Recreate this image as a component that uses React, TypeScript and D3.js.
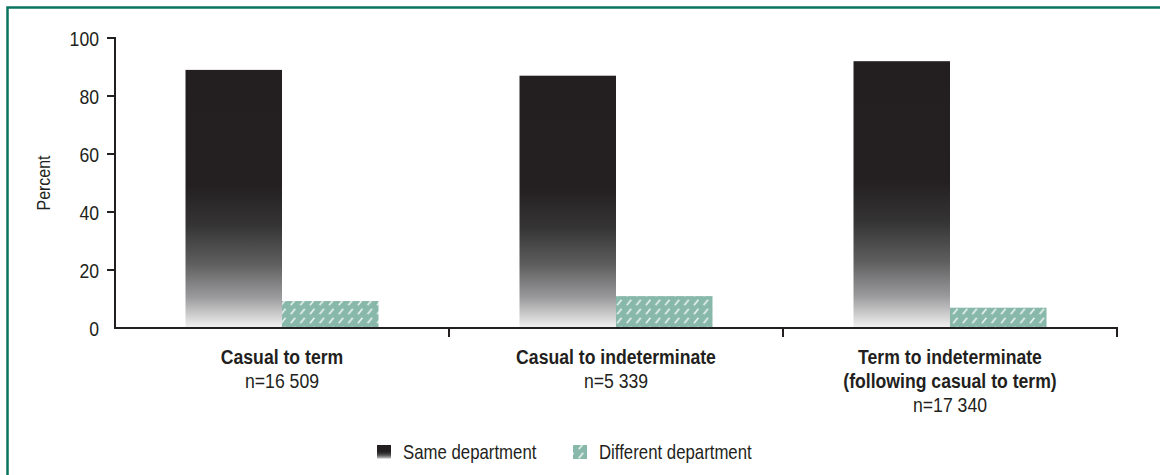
import React from "react";
import * as d3 from "d3";

// Share of employees staying in the same department after a status change
const categories = ["Casual to term", "Casual to indeterminate", "Term to indeterminate"];
const categoryLines = [
  ["Casual to term", "n=16 509"],
  ["Casual to indeterminate", "n=5 339"],
  ["Term to indeterminate", "(following casual to term)", "n=17 340"],
];
const seriesNames = ["Same department", "Different department"];
const sameDept = [89, 87, 92];
const differentDept = [9.3, 11, 7];
const yTicks = [0, 20, 40, 60, 80, 100];

const W = 1160;
const H = 475;
const FONT = "'Liberation Sans', Arial, sans-serif";
const NARROW = 0.84;
const INK = "#231f20";
const TEAL = "#88b8aa";

type NTProps = {
  x: number;
  y: number;
  anchor?: "start" | "middle" | "end";
  size: number;
  bold?: boolean;
  dy?: string;
  rotate?: number;
  children: React.ReactNode;
};

// Condensed text: a regular sans squeezed horizontally
function NText({ x, y, anchor = "start", size, bold, dy, rotate = 0, children }: NTProps) {
  return (
    <g transform={`translate(${x},${y}) rotate(${rotate}) scale(${NARROW},1)`}>
      <text textAnchor={anchor} fontSize={size} fontWeight={bold ? "bold" : "normal"} dy={dy} fill={INK}>
        {children}
      </text>
    </g>
  );
}

export default function App() {
  const left = 115;
  const right = 1117;
  const top = 38;
  const bottom = 328;

  const x = d3.scaleBand<string>().domain(categories).range([left, right]).padding(0);
  const barW = 96.5;
  const inner = d3
    .scaleBand<string>()
    .domain(seriesNames)
    .range([(x.bandwidth() - barW * 2) / 2, (x.bandwidth() + barW * 2) / 2])
    .padding(0);
  const y = d3.scaleLinear().domain([0, 100]).range([bottom, top]);

  const values = [sameDept, differentDept];
  const fills = ["url(#sameGrad)", "url(#hatch)"];
  const boundaries = [...categories.map((c) => x(c)!), right];

  return (
    <svg width={W} height={H} style={{ position: "fixed", left: 0, top: 0, background: "#fff" }} fontFamily={FONT}>
      <defs>
        <linearGradient id="sameGrad" x1="0" y1="0" x2="0" y2="1">
          <stop offset="0" stopColor="#231f20" />
          <stop offset="0.45" stopColor="#242021" />
          <stop offset="0.6" stopColor="#353435" />
          <stop offset="0.75" stopColor="#5e5e5f" />
          <stop offset="0.88" stopColor="#9a9a9c" />
          <stop offset="1" stopColor="#f3f3f3" />
        </linearGradient>
        <pattern id="hatch" patternUnits="userSpaceOnUse" width="9.6" height="9" x="0" y="1">
          <rect width="9.6" height="9" fill={TEAL} />
          <line x1="2.8" y1="7.2" x2="7.2" y2="1.8" stroke="#e2efeb" strokeWidth="1.8" />
        </pattern>
      </defs>

      {/* frame */}
      <path d={`M7.5,${H} L7.5,7.5 L${W},7.5`} fill="none" stroke="#0b7360" strokeWidth={2.5} />

      {/* bars */}
      {seriesNames.map((s, si) =>
        categories.map((c, ci) => (
          <rect
            key={s + c}
            x={x(c)! + inner(s)!}
            y={y(values[si][ci])}
            width={inner.bandwidth()}
            height={bottom - y(values[si][ci])}
            fill={fills[si]}
          />
        ))
      )}

      {/* y axis */}
      <line x1={left} x2={left} y1={top - 1} y2={bottom + 1} stroke={INK} strokeWidth={2} />
      {yTicks.map((t) => (
        <g key={t}>
          {t > 0 && <line x1={left - 8} x2={left} y1={y(t)} y2={y(t)} stroke={INK} strokeWidth={2} />}
          <NText x={left - 16} y={y(t)} dy="0.36em" anchor="end" size={21}>
            {t}
          </NText>
        </g>
      ))}
      <NText x={50} y={(top + bottom) / 2} anchor="middle" size={19} rotate={-90}>
        Percent
      </NText>

      {/* x axis */}
      <line x1={left - 1} x2={right + 1} y1={bottom} y2={bottom} stroke={INK} strokeWidth={2} />
      {boundaries.slice(1).map((b, i) => (
        <line key={i} x1={b} x2={b} y1={bottom} y2={bottom + 9} stroke={INK} strokeWidth={2} />
      ))}
      {categories.map((c, ci) =>
        categoryLines[ci].map((ln, li) => (
          <NText
            key={c + li}
            x={x(c)! + x.bandwidth() / 2}
            y={364 + li * 24}
            anchor="middle"
            size={21}
            bold={li < categoryLines[ci].length - 1}
          >
            {ln}
          </NText>
        ))
      )}

      {/* legend */}
      {seriesNames.map((s, si) => {
        const lx = si === 0 ? 377 : 573;
        return (
          <g key={s}>
            <rect x={lx} y={445} width={14} height={14} fill={fills[si]} />
            <NText x={lx + 26} y={452} dy="0.36em" size={20}>
              {s}
            </NText>
          </g>
        );
      })}
    </svg>
  );
}
